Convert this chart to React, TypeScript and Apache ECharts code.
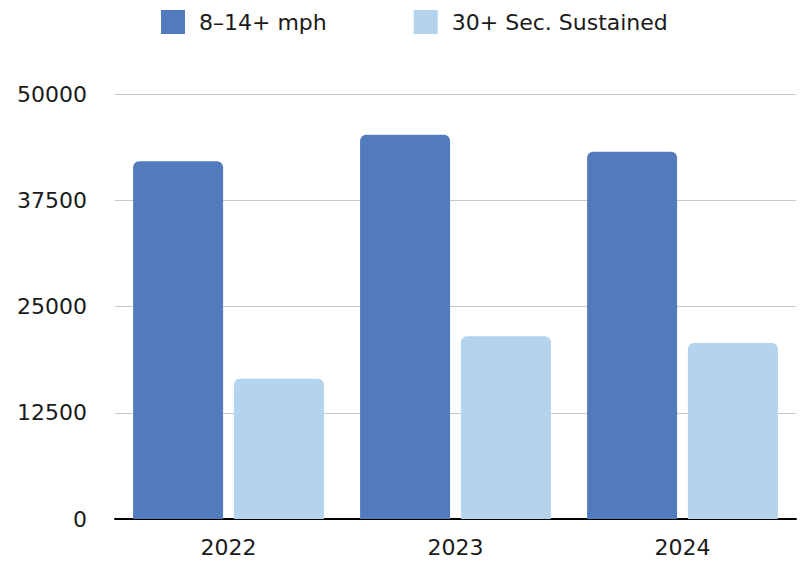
import React, { useEffect, useRef } from "react";
import * as echarts from "echarts";

const categories = ["2022", "2023", "2024"];
const seriesNames = ["8–14+ mph", "30+ Sec. Sustained"];
const windValues = [42100, 45200, 43200];
const sustainedValues = [16500, 21500, 20700];
const yTicks = { min: 0, max: 50000, interval: 12500 };

const FONT = "DejaVu Sans";

export default function App() {
  const ref = useRef<HTMLDivElement>(null);
  useEffect(() => {
    if (!ref.current) return;
    const chart = echarts.init(ref.current, undefined, { renderer: "svg" });
    chart.setOption({
      animation: false,
      textStyle: { fontFamily: FONT },
      legend: {
        top: 5,
        left: 156,
        itemWidth: 24,
        itemHeight: 24,
        itemGap: 87,
        icon: "rect",
        textStyle: { fontSize: 22, color: "#1a1a1a", fontFamily: FONT, padding: [0, 0, 0, 9] },
        data: seriesNames,
      },
      grid: { left: 115, right: 8, top: 94, bottom: 42, containLabel: false },
      xAxis: {
        type: "category",
        data: categories,
        axisLine: { show: true, lineStyle: { color: "#000", width: 2 } },
        axisTick: { show: false },
        axisLabel: { fontSize: 22, color: "#1a1a1a", margin: 17, fontFamily: FONT },
      },
      yAxis: {
        type: "value",
        min: yTicks.min,
        max: yTicks.max,
        interval: yTicks.interval,
        axisLine: { show: false },
        axisTick: { show: false },
        splitLine: { lineStyle: { color: "#c8c8c8", width: 1 } },
        axisLabel: {
          fontSize: 22,
          color: "#1a1a1a",
          margin: 28,
          fontFamily: FONT,
          formatter: (v: number) => String(v),
        },
      },
      series: [
        {
          name: seriesNames[0],
          type: "bar",
          data: windValues,
          barWidth: 90,
          barGap: "12%",
          itemStyle: { color: "#527bbe", borderRadius: [6, 6, 0, 0] },
        },
        {
          name: seriesNames[1],
          type: "bar",
          data: sustainedValues,
          barWidth: 90,
          itemStyle: { color: "#b4d3ec", borderRadius: [6, 6, 0, 0] },
        },
      ],
    });
    return () => chart.dispose();
  }, []);
  return <div ref={ref} style={{ width: 804, height: 561, position: "absolute", left: 0, top: 0 }} />;
}
